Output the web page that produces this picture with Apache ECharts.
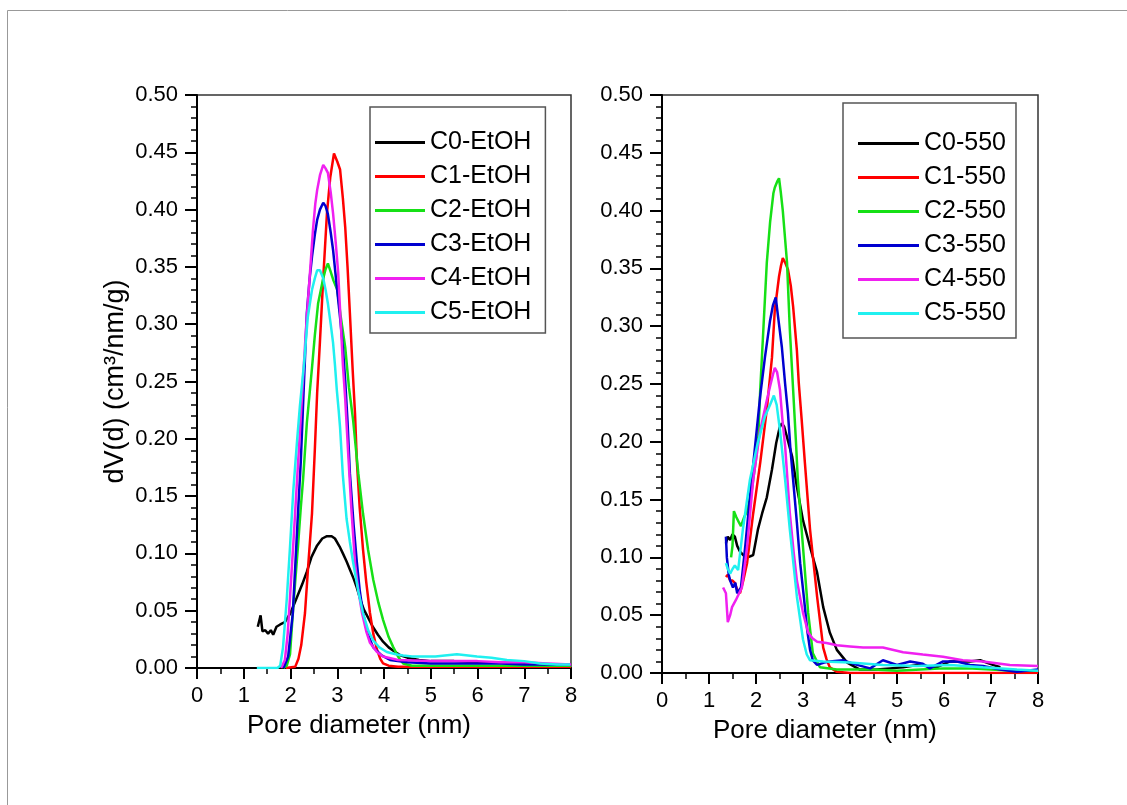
<!DOCTYPE html>
<html>
<head>
<meta charset="utf-8">
<script src="https://cdn.jsdelivr.net/npm/echarts@6/dist/echarts.min.js"></script>
<style>
html,body{margin:0;padding:0;background:#fff;}
#chart{width:1127px;height:805px;}
</style>
</head>
<body>
<div id="chart"></div>
<script>
// ---------- data (pore diameter nm, dV(d) cm3/nm/g) ----------
const leftNames = ['C0-EtOH','C1-EtOH','C2-EtOH','C3-EtOH','C4-EtOH','C5-EtOH'];
const rightNames = ['C0-550','C1-550','C2-550','C3-550','C4-550','C5-550'];
const colors = ['#000000','#ff0000','#16e016','#0000d0','#f020f0','#20f0f0'];

const c0EtOH = [[1.30,0.036],[1.36,0.046],[1.40,0.032],[1.46,0.033],[1.52,0.030],[1.58,0.033],[1.63,0.029],[1.70,0.036],[1.78,0.038],[1.88,0.040],[2.0,0.048],[2.14,0.062],[2.25,0.073],[2.35,0.084],[2.45,0.097],[2.57,0.107],[2.68,0.113],[2.78,0.115],[2.88,0.115],[2.95,0.113],[3.05,0.106],[3.12,0.100],[3.20,0.093],[3.27,0.086],[3.35,0.078],[3.42,0.070],[3.50,0.059],[3.57,0.051],[3.66,0.044],[3.76,0.036],[3.87,0.029],[3.98,0.023],[4.1,0.018],[4.2,0.015],[4.35,0.011],[4.5,0.009],[4.75,0.007],[5.0,0.006],[5.5,0.006],[6.0,0.005],[6.5,0.005],[7.0,0.004],[7.5,0.003],[8.0,0.002]];
const c1EtOH = [[1.9,0.0],[2.10,0.001],[2.17,0.008],[2.23,0.02],[2.31,0.048],[2.38,0.09],[2.46,0.135],[2.52,0.19],[2.57,0.24],[2.63,0.285],[2.70,0.34],[2.78,0.397],[2.85,0.428],[2.93,0.449],[3.0,0.442],[3.06,0.435],[3.12,0.41],[3.17,0.385],[3.22,0.35],[3.27,0.31],[3.33,0.26],[3.38,0.222],[3.42,0.18],[3.48,0.14],[3.55,0.104],[3.62,0.075],[3.70,0.048],[3.77,0.03],[3.85,0.016],[3.92,0.008],[3.98,0.004],[4.1,0.002],[4.3,0.001],[5,0.001],[6,0.001],[7,0.001],[8,0.001]];
const c2EtOH = [[1.85,0.0],[1.92,0.002],[1.99,0.012],[2.05,0.048],[2.10,0.075],[2.16,0.106],[2.22,0.14],[2.27,0.165],[2.35,0.214],[2.41,0.24],[2.46,0.262],[2.52,0.29],[2.59,0.318],[2.65,0.33],[2.70,0.34],[2.75,0.348],[2.80,0.353],[2.85,0.347],[2.92,0.338],[3.0,0.33],[3.08,0.305],[3.17,0.28],[3.25,0.245],[3.34,0.216],[3.45,0.17],[3.55,0.135],[3.66,0.103],[3.77,0.077],[3.88,0.057],[3.98,0.042],[4.1,0.027],[4.2,0.018],[4.3,0.01],[4.41,0.004],[4.6,0.002],[5,0.002],[6,0.002],[7,0.002],[8,0.002]];
const c3EtOH = [[1.85,0.0],[1.95,0.01],[2.05,0.048],[2.16,0.135],[2.22,0.18],[2.29,0.251],[2.35,0.31],[2.41,0.34],[2.46,0.359],[2.52,0.378],[2.57,0.391],[2.63,0.400],[2.70,0.406],[2.75,0.403],[2.80,0.396],[2.86,0.38],[2.91,0.365],[2.98,0.337],[3.06,0.306],[3.12,0.28],[3.17,0.251],[3.22,0.215],[3.27,0.17],[3.35,0.125],[3.42,0.092],[3.48,0.068],[3.55,0.048],[3.65,0.03],[3.77,0.018],[3.95,0.011],[4.13,0.007],[4.5,0.005],[5,0.004],[5.5,0.004],[6,0.004],[6.5,0.004],[7,0.003],[7.5,0.003],[8,0.003]];
const c4EtOH = [[1.8,0.0],[1.88,0.007],[1.94,0.03],[1.99,0.062],[2.07,0.115],[2.14,0.164],[2.20,0.205],[2.25,0.24],[2.33,0.295],[2.42,0.347],[2.48,0.382],[2.53,0.405],[2.57,0.417],[2.63,0.43],[2.70,0.439],[2.75,0.436],[2.80,0.432],[2.86,0.415],[2.91,0.397],[2.97,0.37],[3.02,0.345],[3.07,0.305],[3.12,0.265],[3.17,0.235],[3.23,0.19],[3.30,0.14],[3.38,0.092],[3.45,0.068],[3.53,0.048],[3.62,0.032],[3.70,0.022],[3.85,0.014],[3.98,0.01],[4.3,0.007],[5,0.006],[5.5,0.006],[6,0.006],[6.5,0.005],[7,0.005],[7.5,0.004],[8,0.003]];
const c5EtOH = [[1.28,0.0],[1.5,0.0],[1.72,0.0],[1.78,0.002],[1.84,0.018],[1.92,0.06],[1.99,0.106],[2.06,0.155],[2.14,0.198],[2.20,0.228],[2.29,0.266],[2.37,0.306],[2.46,0.33],[2.52,0.34],[2.57,0.347],[2.63,0.347],[2.70,0.34],[2.75,0.33],[2.80,0.318],[2.86,0.30],[2.91,0.284],[2.95,0.265],[2.99,0.243],[3.03,0.225],[3.06,0.21],[3.12,0.168],[3.2,0.13],[3.27,0.11],[3.34,0.092],[3.45,0.067],[3.55,0.048],[3.66,0.033],[3.77,0.024],[3.9,0.018],[4.06,0.014],[4.25,0.012],[4.41,0.011],[4.6,0.01],[4.84,0.01],[5.1,0.01],[5.3,0.011],[5.56,0.012],[5.8,0.011],[5.99,0.01],[6.3,0.009],[6.63,0.007],[7.0,0.006],[7.34,0.004],[7.7,0.003],[7.98,0.003]];

const c0_550 = [[1.36,0.112],[1.40,0.118],[1.45,0.115],[1.50,0.12],[1.55,0.118],[1.60,0.11],[1.66,0.105],[1.73,0.102],[1.81,0.1],[1.88,0.101],[1.94,0.102],[2.0,0.115],[2.04,0.124],[2.13,0.138],[2.23,0.152],[2.34,0.176],[2.43,0.199],[2.50,0.212],[2.55,0.216],[2.60,0.213],[2.66,0.204],[2.77,0.187],[2.87,0.161],[3.0,0.132],[3.15,0.109],[3.30,0.087],[3.43,0.057],[3.57,0.035],[3.72,0.02],[3.94,0.009],[4.21,0.003],[4.57,0.003],[4.85,0.004],[5.13,0.005],[5.43,0.007],[5.85,0.005],[6.13,0.01],[6.55,0.01],[6.77,0.011],[7.04,0.007],[7.2,0.005]];
const c1_550 = [[1.36,0.083],[1.40,0.085],[1.45,0.08],[1.50,0.08],[1.55,0.078],[1.60,0.072],[1.66,0.069],[1.73,0.08],[1.81,0.095],[1.94,0.138],[2.09,0.182],[2.23,0.228],[2.34,0.273],[2.40,0.314],[2.45,0.33],[2.49,0.343],[2.53,0.352],[2.57,0.359],[2.62,0.355],[2.68,0.349],[2.74,0.335],[2.79,0.317],[2.87,0.279],[2.91,0.251],[2.97,0.22],[3.04,0.182],[3.15,0.124],[3.30,0.066],[3.43,0.022],[3.50,0.012],[3.57,0.005],[3.72,0.001],[4,0.0],[5,0],[6,0],[7,0],[8,0]];
const c2_550 = [[1.47,0.10],[1.50,0.11],[1.53,0.14],[1.58,0.135],[1.64,0.13],[1.68,0.127],[1.75,0.135],[1.81,0.14],[1.91,0.158],[2.0,0.185],[2.05,0.205],[2.09,0.245],[2.16,0.3],[2.23,0.355],[2.30,0.39],[2.37,0.415],[2.40,0.42],[2.45,0.425],[2.49,0.428],[2.53,0.415],[2.57,0.40],[2.62,0.375],[2.66,0.355],[2.72,0.297],[2.79,0.245],[2.85,0.2],[2.89,0.167],[3.0,0.109],[3.11,0.052],[3.21,0.017],[3.36,0.005],[3.72,0.003],[4.5,0.003],[5,0.002],[5.5,0.003],[6,0.004],[6.5,0.004],[7,0.003],[7.5,0.002],[8,0.002]];
const c3_550 = [[1.36,0.118],[1.38,0.10],[1.42,0.085],[1.45,0.08],[1.51,0.074],[1.56,0.078],[1.60,0.069],[1.68,0.074],[1.77,0.109],[1.87,0.152],[1.98,0.196],[2.09,0.24],[2.19,0.273],[2.30,0.305],[2.36,0.318],[2.42,0.325],[2.47,0.308],[2.55,0.282],[2.62,0.25],[2.68,0.225],[2.73,0.195],[2.79,0.167],[2.87,0.13],[2.94,0.095],[3.02,0.065],[3.09,0.037],[3.15,0.02],[3.21,0.011],[3.30,0.007],[3.45,0.009],[3.57,0.01],[3.85,0.011],[4.0,0.009],[4.15,0.007],[4.43,0.004],[4.70,0.011],[5.0,0.007],[5.28,0.01],[5.55,0.008],[5.70,0.004],[5.98,0.01],[6.28,0.01],[6.55,0.007],[6.83,0.006],[7.19,0.003],[7.55,0.001],[8.0,0.003]];
const c4_550 = [[1.30,0.074],[1.36,0.069],[1.40,0.044],[1.45,0.05],[1.49,0.057],[1.57,0.063],[1.70,0.074],[1.81,0.109],[1.94,0.167],[2.09,0.21],[2.23,0.236],[2.30,0.248],[2.36,0.258],[2.40,0.264],[2.45,0.26],[2.51,0.245],[2.56,0.22],[2.62,0.196],[2.72,0.138],[2.80,0.105],[2.87,0.08],[3.0,0.052],[3.11,0.035],[3.20,0.03],[3.30,0.027],[3.5,0.026],[3.72,0.024],[4.0,0.023],[4.28,0.022],[4.70,0.022],[5.13,0.018],[5.55,0.016],[5.98,0.014],[6.40,0.011],[6.83,0.01],[7.4,0.007],[8.0,0.006]];
const c5_550 = [[1.36,0.095],[1.40,0.09],[1.45,0.086],[1.50,0.09],[1.55,0.093],[1.62,0.089],[1.72,0.124],[1.87,0.167],[2.02,0.196],[2.19,0.222],[2.30,0.232],[2.38,0.24],[2.44,0.232],[2.51,0.21],[2.62,0.167],[2.72,0.124],[2.87,0.066],[3.0,0.029],[3.08,0.016],[3.15,0.011],[3.43,0.01],[4.0,0.009],[4.70,0.007],[5.43,0.006],[6.13,0.007],[6.83,0.005],[7.55,0.003],[8.0,0.002]];

const leftData = [c0EtOH,c1EtOH,c2EtOH,c3EtOH,c4EtOH,c5EtOH];
const rightData = [c0_550,c1_550,c2_550,c3_550,c4_550,c5_550];

const xName = 'Pore diameter (nm)';
const yName = 'dV(d) (cm³/nm/g)';

// ---------- chart ----------
const FONT = 'Liberation Sans, Arial, sans-serif';
const chart = echarts.init(document.getElementById('chart'), null, {renderer:'canvas'});

function xAxisCfg(gi){
  return {
    type:'value', gridIndex:gi, min:0, max:8, interval:1,
    name:xName, nameLocation:'middle', nameGap:45,
    nameTextStyle:{fontSize:26, color:'#000', fontFamily:FONT, padding:[0,50,0,0]},
    axisLine:{show:true, onZero:false, lineStyle:{color:'#000', width:2}},
    axisTick:{show:true, inside:false, length:11, lineStyle:{color:'#000', width:2}},
    minorTick:{show:true, splitNumber:2, length:6, lineStyle:{color:'#000', width:1.5}},
    axisLabel:{fontSize:22, color:'#000', fontFamily:FONT, margin:17},
    splitLine:{show:false}
  };
}
function yAxisCfg(gi, withName){
  return {
    type:'value', gridIndex:gi, min:0, max:0.5, interval:0.05,
    name: withName ? yName : '', nameLocation:'middle', nameGap:68,
    nameTextStyle:{fontSize:27, color:'#000', fontFamily:FONT},
    axisLine:{show:true, onZero:false, lineStyle:{color:'#000', width:2}},
    axisTick:{show:true, inside:false, length:12, lineStyle:{color:'#000', width:2}},
    minorTick:{show:true, splitNumber:5, length:6, lineStyle:{color:'#000', width:1.5}},
    axisLabel:{fontSize:22, color:'#000', fontFamily:FONT, margin:19, formatter:v=>v.toFixed(2)},
    splitLine:{show:false}
  };
}
function legendCfg(names, left, top, itemWidth, padding){
  return {
    data:names, orient:'vertical', left:left, top:top,
    icon:'rect', itemWidth:itemWidth, itemHeight:3, itemGap:9,
    textStyle:{fontSize:25, lineHeight:24, color:'#000', fontFamily:FONT},
    padding:padding, borderColor:'#555', borderWidth:1.5, backgroundColor:'#fff',
    selectedMode:false
  };
}
const series = [];
leftNames.forEach((n,i)=>series.push({
  name:n, type:'line', xAxisIndex:0, yAxisIndex:0, data:leftData[i],
  showSymbol:false, symbol:'none', lineStyle:{color:colors[i], width:2.5},
  itemStyle:{color:colors[i]}, z:2+i
}));
rightNames.forEach((n,i)=>series.push({
  name:n, type:'line', xAxisIndex:1, yAxisIndex:1, data:rightData[i],
  showSymbol:false, symbol:'none', lineStyle:{color:colors[i], width:2.5},
  itemStyle:{color:colors[i]}, z:2+i
}));

chart.setOption({
  animation:false,
  backgroundColor:'#fff',
  graphic:[{type:'polyline', shape:{points:[[7.5,805],[7.5,10.5],[1127,10.5]]}, style:{stroke:'#999', lineWidth:1, fill:null}, silent:true}],
  grid:[
    {left:197, top:95, width:374, height:573, show:true, borderColor:'#333', borderWidth:1.5, backgroundColor:'transparent'},
    {left:662, top:95, width:376, height:578, show:true, borderColor:'#333', borderWidth:1.5, backgroundColor:'transparent'}
  ],
  xAxis:[xAxisCfg(0), xAxisCfg(1)],
  yAxis:[yAxisCfg(0,true), yAxisCfg(1,false)],
  legend:[
    legendCfg(leftNames, 370, 107, 50, [23,14,8,5]),
    legendCfg(rightNames, 843, 103, 61, [28,10,12,15])
  ],
  series:series
});
</script>
</body>
</html>
